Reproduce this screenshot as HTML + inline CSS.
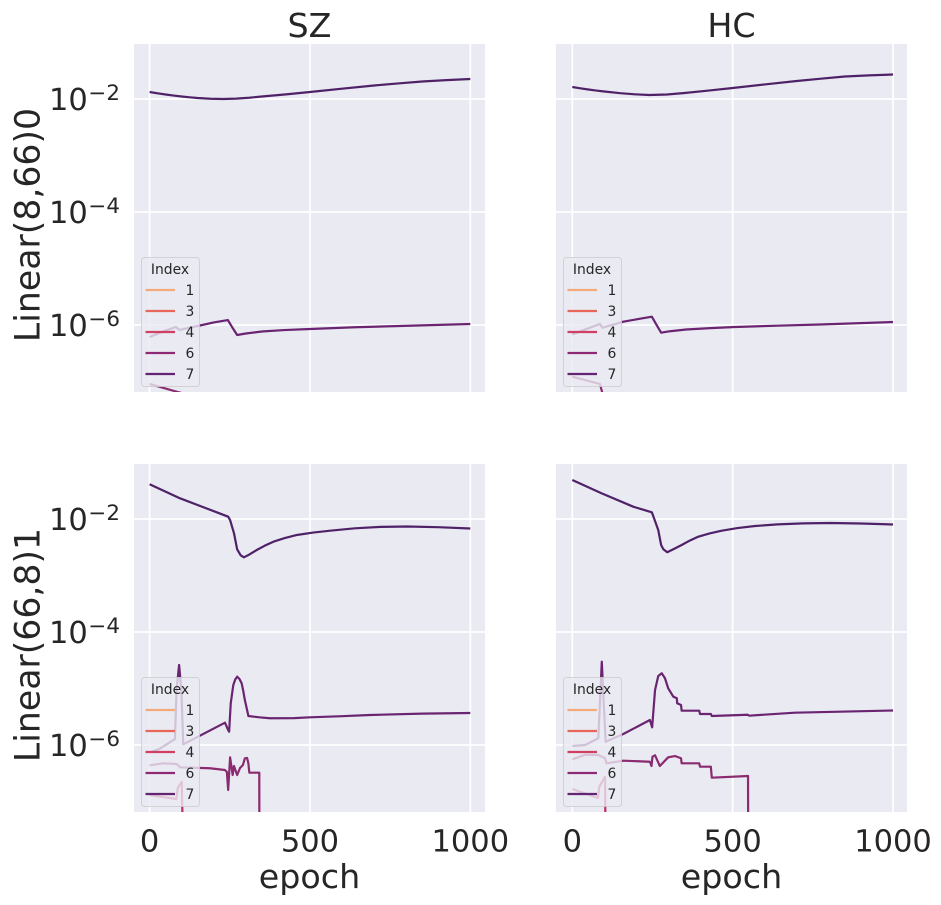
<!DOCTYPE html>
<html>
<head>
<meta charset="utf-8">
<title>SZ vs HC loss curves</title>
<style>
html,body{margin:0;padding:0;background:#fff;}
svg{display:block;}
text{font-family:"DejaVu Sans","Liberation Sans",sans-serif;fill:#262626;}
</style>
</head>
<body>
<svg id="chart" width="941" height="905" viewBox="0 0 941 905" xmlns="http://www.w3.org/2000/svg"></svg>
<script>
// x-axis and y-axis ticks
const xTicks = [0, 500, 1000];
const yTickExponents = [-2, -4, -6];
const legendLabels = ['1', '3', '4', '6', '7'];

// Values are log10 of the plotted quantity.
const szUpperEpochsHigh = [0,25,50,75,100,125,150,190,230,270,310,350,425,500,600,700,775,850,925,1000];
const szUpperLogHigh = [-1.876,-1.899,-1.920,-1.939,-1.956,-1.970,-1.982,-1.996,-2,-1.993,-1.978,-1.956,-1.918,-1.876,-1.817,-1.761,-1.724,-1.690,-1.666,-1.646];
const szUpperEpochsMid = [0,42,82,93,157,200,244,257,273,300,350,420,500,640,780,1000];
const szUpperLogMid = [-6.212,-6.115,-6.035,-6.088,-6.009,-5.955,-5.912,-6.035,-6.177,-6.150,-6.115,-6.090,-6.071,-6.040,-6.018,-5.982];
const szUpperEpochsLow = [0,88,160];
const szUpperLogLow = [-7.044,-7.186,-7.292];

const hcUpperEpochsHigh = [0,25,50,75,100,150,195,240,295,350,425,500,600,700,775,850,925,1000];
const hcUpperLogHigh = [-1.788,-1.811,-1.832,-1.851,-1.867,-1.897,-1.917,-1.929,-1.920,-1.894,-1.851,-1.805,-1.742,-1.681,-1.640,-1.602,-1.582,-1.566];
const hcUpperEpochsMid = [0,86,94,159,205,248,261,277,305,355,430,507,640,772,1000];
const hcUpperLogMid = [-6.165,-5.982,-6.048,-5.942,-5.895,-5.853,-5.982,-6.136,-6.110,-6.080,-6.055,-6.035,-6.012,-5.991,-5.947];
const hcUpperEpochsLow = [0,86,93,100];
const hcUpperLogLow = [-6.915,-7.044,-7.186,-7.327];

const szLowerEpochsHigh = [0,95,170,245,251,263,273,284,294,310,334,360,386,420,459,510,563,640,720,803,900,1000];
const szLowerLogHigh = [-1.386,-1.634,-1.796,-1.959,-2.018,-2.248,-2.536,-2.642,-2.678,-2.632,-2.549,-2.470,-2.402,-2.340,-2.283,-2.240,-2.207,-2.165,-2.140,-2.133,-2.145,-2.168];
const szLowerEpochsMid = [0,30,79,84,92,99,105,157,235,245,248,253,261,267,273,280,287,292,297,304,308,342,375,450,500,600,687,850,1000];
const szLowerLogMid = [-6.133,-6.071,-5.894,-5.027,-4.584,-5.027,-5.988,-5.835,-5.605,-5.735,-5.765,-5.262,-4.938,-4.840,-4.791,-4.830,-4.908,-5.040,-5.204,-5.381,-5.487,-5.510,-5.527,-5.525,-5.510,-5.490,-5.469,-5.445,-5.434];
const szLowerEpochsLow = [0,43,85,95,188,235,241,245,251,259,263,273,282,291,297,304,308,311,342,342.5];
const szLowerLogLow = [-6.359,-6.324,-6.336,-6.395,-6.412,-6.442,-6.478,-6.796,-6.218,-6.531,-6.372,-6.531,-6.407,-6.354,-6.235,-6.230,-6.324,-6.490,-6.490,-8.743];
const szLowerEpochsLowest = [0,83,88,100,105];
const szLowerLogLowest = [-6.885,-6.956,-6.761,-6.650,-7.858];

const hcLowerEpochsHigh = [0,91,190,248,253,268,277,284,296,315,341,367,393,428,466,515,570,640,720,805,900,1000];
const hcLowerLogHigh = [-1.310,-1.545,-1.782,-1.881,-1.959,-2.195,-2.460,-2.536,-2.589,-2.535,-2.460,-2.380,-2.313,-2.256,-2.207,-2.160,-2.124,-2.095,-2.077,-2.071,-2.080,-2.097];
const hcLowerEpochsMid = [0,40,81,88,92,96,104,159,242,249,258,268,279,289,299,315,326,327,339,341,396,398,432,435,547,551,694,1000];
const hcLowerLogMid = [-6.018,-6,-5.881,-5.027,-4.526,-5.027,-5.942,-5.805,-5.558,-5.687,-5.027,-4.779,-4.731,-4.819,-4.996,-5.145,-5.173,-5.262,-5.292,-5.393,-5.393,-5.451,-5.451,-5.487,-5.464,-5.481,-5.428,-5.389];
const hcLowerEpochsLow = [0,41,81,102,107,159,242,247,250,258,273,299,320,339,341,396,398,432,435,548,549];
const hcLowerLogLow = [-6.253,-6.172,-6.177,-6.235,-6.324,-6.278,-6.296,-6.372,-6.207,-6.182,-6.372,-6.218,-6.195,-6.235,-6.324,-6.324,-6.384,-6.384,-6.579,-6.549,-8.743];
const hcLowerEpochsLowest = [0,80,84,102,104];
const hcLowerLogLowest = [-6.779,-6.938,-6.743,-6.561,-7.858];

const NS = 'http://www.w3.org/2000/svg';
const svg = document.getElementById('chart');
const legendColors = ['#f3ab7b', '#e7685b', '#d13f63', '#8e2a74', '#632471'];
const lineHigh = '#4f2268';
const lineMid = '#6a2471';
const lineLow = '#8a2a6f';
const lineLowest = '#bd2f63';

function make(tag, parent, props) {
  const el = document.createElementNS(NS, tag);
  for (const k in props) el.setAttribute(k, props[k]);
  parent.appendChild(el);
  return el;
}

function xScale(panel, epoch) {
  return panel.x0 + epoch * 0.3207;
}
function yScale(panel, logValue) {
  return panel.y2 + (-2 - logValue) * 56.5;
}

function drawSeries(panel, group, epochs, logs, color, name) {
  const pts = epochs.map((e, i) => xScale(panel, e).toFixed(2) + ',' + yScale(panel, logs[i]).toFixed(2)).join(' ');
  const line = make('polyline', group, {points: pts, fill: 'none', stroke: color, 'stroke-width': 2.2, 'stroke-linejoin': 'round'});
  
  
}

function drawLegend(panel) {
  const lx = panel.left + 7;
  const ly = panel.top + 213;
  const g = make('g', svg, {});
  
  
  const box = make('rect', g, {x: lx + 0.5, y: ly + 0.5, width: 58, height: 129, rx: 3, fill: '#eaeaf2', 'fill-opacity': 0.8, stroke: '#cccccc', 'stroke-opacity': 0.8, 'stroke-width': 1});
  
  
  const title = make('text', g, {x: lx + 29, y: ly + 17, 'font-size': 13.9, 'text-anchor': 'middle'});
  title.textContent = 'Index';
  
  
  legendLabels.forEach((label, i) => {
    const rowY = ly + 33 + i * 21;
    const handle = make('line', g, {x1: lx + 4.5, x2: lx + 34, y1: rowY, y2: rowY, stroke: legendColors[i], 'stroke-width': 2.2});
    
    
    const text = make('text', g, {x: lx + 44.5, y: rowY + 5, 'font-size': 13.9});
    text.textContent = label;
    
    
  });
}

function drawPanel(panel) {
  const g = make('g', svg, {});
  
  
  const bg = make('rect', g, {x: panel.left, y: panel.top, width: 351, height: 348, fill: '#eaeaf2'});
  
  
  const clip = make('clipPath', g, {id: panel.id + '-clip'});
  make('rect', clip, {x: panel.left, y: panel.top, width: 351, height: 348});

  xTicks.forEach(t => {
    const x = xScale(panel, t);
    const grid = make('line', g, {x1: x, x2: x, y1: panel.top, y2: panel.top + 348, stroke: '#fff', 'stroke-width': 1.7});
    
    
    if (panel.showX) {
      const label = make('text', svg, {x: x, y: panel.top + 387.5, 'font-size': 30.5, 'text-anchor': 'middle'});
      label.textContent = String(t);
      
      
    }
  });
  yTickExponents.forEach(t => {
    const y = yScale(panel, t);
    const grid = make('line', g, {x1: panel.left, x2: panel.left + 351, y1: y, y2: y, stroke: '#fff', 'stroke-width': 1.7});
    
    
    if (panel.showY) {
      const base = make('text', svg, {x: 49, y: y + 11, 'font-size': 30.5});
      base.textContent = '10';
      
      
      const sup = make('text', svg, {x: 88.4, y: y + 1, 'font-size': 21.4});
      sup.textContent = '\u2212' + Math.abs(t);
      
      
    }
  });

  const lines = make('g', g, {'clip-path': 'url(#' + panel.id + '-clip)'});
  
  
  panel.series.forEach(s => drawSeries(panel, lines, s[0], s[1], s[2], s[3]));
  drawLegend(panel);

  if (panel.title) {
    const title = make('text', svg, {x: panel.left + 175.5, y: 37, 'font-size': 33.3, 'text-anchor': 'middle'});
    title.textContent = panel.title;
    
    
  }
  if (panel.showX) {
    const xl = make('text', svg, {x: panel.left + 175.5, y: panel.top + 424, 'font-size': 33.3, 'text-anchor': 'middle'});
    xl.textContent = 'epoch';
    
    
  }
  if (panel.yLabel) {
    const cy = panel.top + 181;
    const yl = make('text', svg, {x: 39.5, y: cy, 'font-size': 34.7, 'text-anchor': 'middle', transform: 'rotate(-90 39.5 ' + cy + ')'});
    yl.textContent = panel.yLabel;
    
    
  }
}

const panels = [
  {id: 'sz-upper', left: 134, top: 44, x0: 149.6, y2: 99, title: 'SZ', showX: false, showY: true, yLabel: 'Linear(8,66)0',
   series: [[szUpperEpochsLow, szUpperLogLow, lineLow, 'line-index-6'], [szUpperEpochsMid, szUpperLogMid, lineMid, 'line-index-7-mid'], [szUpperEpochsHigh, szUpperLogHigh, lineHigh, 'line-index-7-high']]},
  {id: 'hc-upper', left: 556, top: 44, x0: 572.3, y2: 99, title: 'HC', showX: false, showY: false, yLabel: '',
   series: [[hcUpperEpochsLow, hcUpperLogLow, lineLow, 'line-index-6'], [hcUpperEpochsMid, hcUpperLogMid, lineMid, 'line-index-7-mid'], [hcUpperEpochsHigh, hcUpperLogHigh, lineHigh, 'line-index-7-high']]},
  {id: 'sz-lower', left: 134, top: 464, x0: 149.6, y2: 519, title: '', showX: true, showY: true, yLabel: 'Linear(66,8)1',
   series: [[szLowerEpochsLowest, szLowerLogLowest, lineLowest, 'line-index-4'], [szLowerEpochsLow, szLowerLogLow, lineLow, 'line-index-6'], [szLowerEpochsMid, szLowerLogMid, lineMid, 'line-index-7-mid'], [szLowerEpochsHigh, szLowerLogHigh, lineHigh, 'line-index-7-high']]},
  {id: 'hc-lower', left: 556, top: 464, x0: 572.3, y2: 519, title: '', showX: true, showY: false, yLabel: '',
   series: [[hcLowerEpochsLowest, hcLowerLogLowest, lineLowest, 'line-index-4'], [hcLowerEpochsLow, hcLowerLogLow, lineLow, 'line-index-6'], [hcLowerEpochsMid, hcLowerLogMid, lineMid, 'line-index-7-mid'], [hcLowerEpochsHigh, hcLowerLogHigh, lineHigh, 'line-index-7-high']]}
];
panels.forEach(drawPanel);
</script>
</body>
</html>
